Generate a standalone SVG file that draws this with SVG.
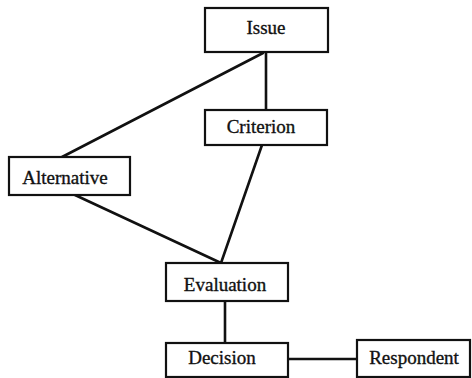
<svg xmlns="http://www.w3.org/2000/svg" width="472" height="378" viewBox="0 0 472 378">
  <style>
    .box { fill: #ffffff; stroke: #111111; stroke-width: 2.2; }
    .lbl { font-size: 19px; fill: #111111; stroke: #111111; stroke-width: 0.35; text-anchor: middle; }
    .link { stroke: #111111; stroke-width: 2.6; fill: none; stroke-linecap: round; }
  </style>
  <rect width="472" height="378" fill="#ffffff"/>
  <g id="connectors">
    <line class="link" x1="263" y1="53" x2="62" y2="157"/>
    <line class="link" x1="266" y1="53" x2="266" y2="110"/>
    <line class="link" x1="262" y1="145" x2="221" y2="263"/>
    <line class="link" x1="75" y1="195" x2="221" y2="263"/>
    <line class="link" x1="225" y1="301" x2="225" y2="343"/>
    <line class="link" x1="288" y1="359" x2="357" y2="359"/>
  </g>
  <g font-family="'Liberation Serif', 'Times New Roman', Tinos, serif">
    <g id="issue">
      <rect class="box" x="205" y="8" width="123" height="44"/>
      <text class="lbl" x="266" y="34">Issue</text>
    </g>
    <g id="criterion">
      <rect class="box" x="205" y="110" width="122" height="35"/>
      <text class="lbl" x="261" y="133">Criterion</text>
    </g>
    <g id="alternative">
      <rect class="box" x="9" y="157" width="121" height="38"/>
      <text class="lbl" x="65" y="184">Alternative</text>
    </g>
    <g id="evaluation">
      <rect class="box" x="166" y="263" width="122" height="38"/>
      <text class="lbl" x="225" y="291">Evaluation</text>
    </g>
    <g id="decision">
      <rect class="box" x="166" y="343" width="122" height="34"/>
      <text class="lbl" x="222" y="364">Decision</text>
    </g>
    <g id="respondent">
      <rect class="box" x="357" y="340" width="113" height="37"/>
      <text class="lbl" x="414" y="364">Respondent</text>
    </g>
  </g>
</svg>
